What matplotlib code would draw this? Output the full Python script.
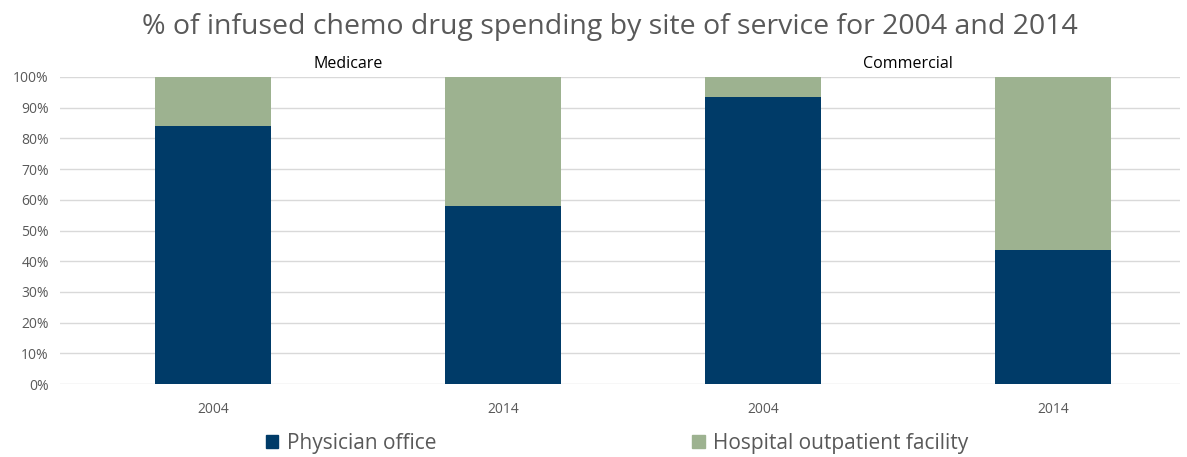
import matplotlib.pyplot as plt
from matplotlib.patches import Patch
from matplotlib.ticker import PercentFormatter

plt.rcParams['font.family'] = ['Open Sans', 'DejaVu Sans']

# data
years = ['2004', '2014']
payers = ['Medicare', 'Commercial']
physician = {'Medicare': [84, 58], 'Commercial': [93.5, 43.5]}
hospital = {p: [100 - v for v in physician[p]] for p in payers}

navy = '#003B68'
green = '#9DB290'
grey = '#595959'

fig = plt.figure(figsize=(11.87, 4.57), dpi=100)
W, H = 1187, 457
left_px, mid_px, right_px = 60, 614, 1180
top_px, bot_px = 77, 384

axes = []
xlims = [(-0.528, 1.383), (-0.514, 1.438)]
edges = [(left_px, mid_px), (mid_px, right_px)]
for i, payer in enumerate(payers):
    x0, x1 = edges[i]
    ax = fig.add_axes([x0 / W, 1 - bot_px / H, (x1 - x0) / W, (bot_px - top_px) / H])
    xs = range(len(years))
    ax.bar(xs, physician[payer], width=0.4, color=navy, zorder=3)
    ax.bar(xs, hospital[payer], width=0.4, bottom=physician[payer], color=green, zorder=3)
    ax.set_xlim(*xlims[i])
    ax.set_ylim(0, 100)
    ax.set_yticks(range(0, 101, 10))
    ax.yaxis.set_major_formatter(PercentFormatter(decimals=0))
    ax.set_xticks(list(xs))
    ax.set_xticklabels(years)
    ax.grid(axis='y', color='#d9d9d9', linewidth=1, zorder=0)
    for s in ax.spines.values():
        s.set_visible(False)
    ax.tick_params(length=0, colors=grey, labelsize=10)
    ax.tick_params(axis='x', pad=13)
    ax.tick_params(axis='y', pad=8)
    if i > 0:
        ax.tick_params(labelleft=False)
    ax.text(0.52, 1.015, payer, transform=ax.transAxes,
            ha='center', va='bottom', fontsize=11.5, color='black')
    axes.append(ax)

fig.text(0.514, 1 - 27 / H, '% of infused chemo drug spending by site of service for 2004 and 2014',
         ha='center', va='center', fontsize=20.5, color=grey)

handles = [Patch(color=navy, label='Physician office'),
           Patch(color=green, label='Hospital outpatient facility')]
fig.legend(handles=handles, loc='center', bbox_to_anchor=(0.52, 1 - 443 / H), ncol=2,
           frameon=False, fontsize=15, labelcolor=grey, columnspacing=12.3,
           handlelength=0.6, handleheight=0.6, handletextpad=0.4)

fig.savefig('out.png', dpi=100)
